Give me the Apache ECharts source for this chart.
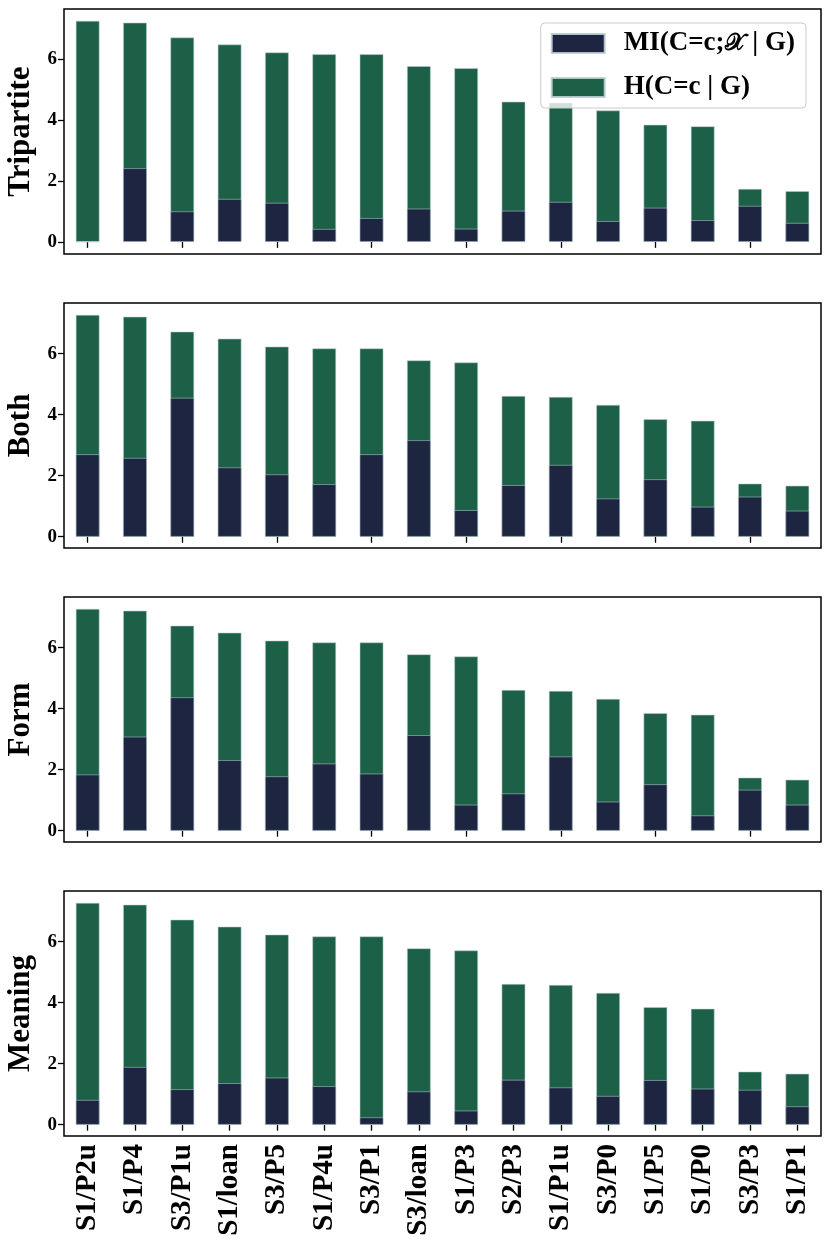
<!DOCTYPE html>
<html>
<head>
<meta charset="utf-8">
<script src="https://cdn.jsdelivr.net/npm/echarts@6/dist/echarts.min.js"></script>
<style>
html,body{margin:0;padding:0;background:#fff;}
#chart{width:830px;height:1244px;}
</style>
</head>
<body>
<div id="chart"></div>
<script>
const categories = ['S1/P2u','S1/P4','S3/P1u','S1/loan','S3/P5','S1/P4u','S3/P1','S3/loan','S1/P3','S2/P3','S1/P1u','S3/P0','S1/P5','S1/P0','S3/P3','S1/P1'];
const panelNames = ['Tripartite','Both','Form','Meaning'];
const entropyH = [7.27, 7.21, 6.72, 6.49, 6.23, 6.17, 6.17, 5.78, 5.71, 4.61, 4.58, 4.32, 3.85, 3.80, 1.74, 1.67];
const miTripartite = [0.00, 2.42, 1.00, 1.41, 1.28, 0.42, 0.78, 1.09, 0.43, 1.02, 1.31, 0.68, 1.12, 0.71, 1.18, 0.62];
const miBoth = [2.70, 2.58, 4.55, 2.27, 2.04, 1.72, 2.70, 3.16, 0.87, 1.69, 2.35, 1.25, 1.88, 0.98, 1.31, 0.85];
const miForm = [1.84, 3.08, 4.37, 2.31, 1.78, 2.20, 1.87, 3.13, 0.85, 1.22, 2.43, 0.95, 1.52, 0.50, 1.34, 0.85];
const miMeaning = [0.81, 1.89, 1.16, 1.36, 1.54, 1.26, 0.24, 1.09, 0.46, 1.47, 1.22, 0.94, 1.46, 1.18, 1.14, 0.60];
const yTicks = [0, 2, 4, 6];
const seriesMI = 'MI(C=c;\uD835\uDCB3 | G)';
const seriesH = 'H(C=c | G)';

const miPanels = [miTripartite, miBoth, miForm, miMeaning];
const NAVY = '#1d2541';
const GREEN = '#1d6048';
const FONT = '"Liberation Serif", "Times New Roman", serif';
const tops = [9, 303, 597, 891];
const H = 245;

const grids = [], xAxes = [], yAxes = [], series = [];
panelNames.forEach((name, i) => {
  grids.push({left: 64, right: 9, top: tops[i], height: H, show: true, borderColor: '#000', borderWidth: 1.5, backgroundColor: 'transparent', containLabel: false, outerBoundsMode: 'none'});
  xAxes.push({
    type: 'category', gridIndex: i, data: categories, boundaryGap: true,
    axisLine: {show: false},
    axisTick: {show: true, alignWithLabel: true, length: 6, lineStyle: {color: '#000', width: 1.3}},
    axisLabel: i === 3 ? {show: true, rotate: 90, interval: 0, fontFamily: FONT, fontWeight: 'bold', fontSize: 29, color: '#000', margin: 8} : {show: false},
    splitLine: {show: false}
  });
  yAxes.push({
    type: 'value', gridIndex: i, min: i === 0 ? -0.4 : -0.37, max: 7.66,
    name: name, nameLocation: 'middle', nameGap: 27,
    nameTextStyle: {fontFamily: FONT, fontWeight: 'bold', fontSize: 31, color: '#000'},
    axisLine: {show: false},
    axisTick: {show: true, length: 6, customValues: yTicks, lineStyle: {color: '#000', width: 1.3}},
    axisLabel: {show: true, customValues: yTicks, fontFamily: FONT, fontWeight: 'bold', fontSize: 19, color: '#000', margin: 7},
    splitLine: {show: false}
  });
  series.push({
    name: seriesH, type: 'bar', xAxisIndex: i, yAxisIndex: i, data: entropyH,
    barWidth: '50%', barGap: '-100%',
    itemStyle: {color: GREEN, borderColor: 'rgba(190,205,210,0.9)', borderWidth: 0.6},
    z: 2
  });
  series.push({
    name: seriesMI, type: 'bar', xAxisIndex: i, yAxisIndex: i, data: miPanels[i],
    barWidth: '50%', barGap: '-100%',
    itemStyle: {color: NAVY, borderColor: 'rgba(190,205,210,0.9)', borderWidth: 0.6},
    z: 3
  });
});

const chart = echarts.init(document.getElementById('chart'), null, {renderer: 'canvas'});
chart.setOption({
  animation: false,
  backgroundColor: '#fff',
  grid: grids,
  xAxis: xAxes,
  yAxis: yAxes,
  series: series,
  legend: {
    data: [seriesMI, seriesH],
    orient: 'vertical', right: 24, top: 23,
    itemWidth: 53, itemHeight: 19, itemGap: 17,
    padding: [7, 11, 7, 10],
    backgroundColor: 'rgba(255,255,255,0.8)',
    borderColor: '#cccccc', borderWidth: 1, borderRadius: 4,
    icon: 'rect',
    formatter: function (n) {
      if (n === seriesMI) return '{b|MI(C=c;}{x|\uD835\uDCB3}{b| | G)}';
      return '{b|H(C=c | G)}';
    },
    textStyle: {
      fontFamily: FONT, fontWeight: 'bold', fontSize: 27, color: '#000', padding: [0,0,0,14],
      rich: {
        b: {fontFamily: FONT, fontWeight: 'bold', fontSize: 27, color: '#000'},
        x: {fontFamily: '"DejaVu Serif", "DejaVu Sans", serif', fontSize: 24, color: '#000'}
      }
    }
  }
});
</script>
</body>
</html>
